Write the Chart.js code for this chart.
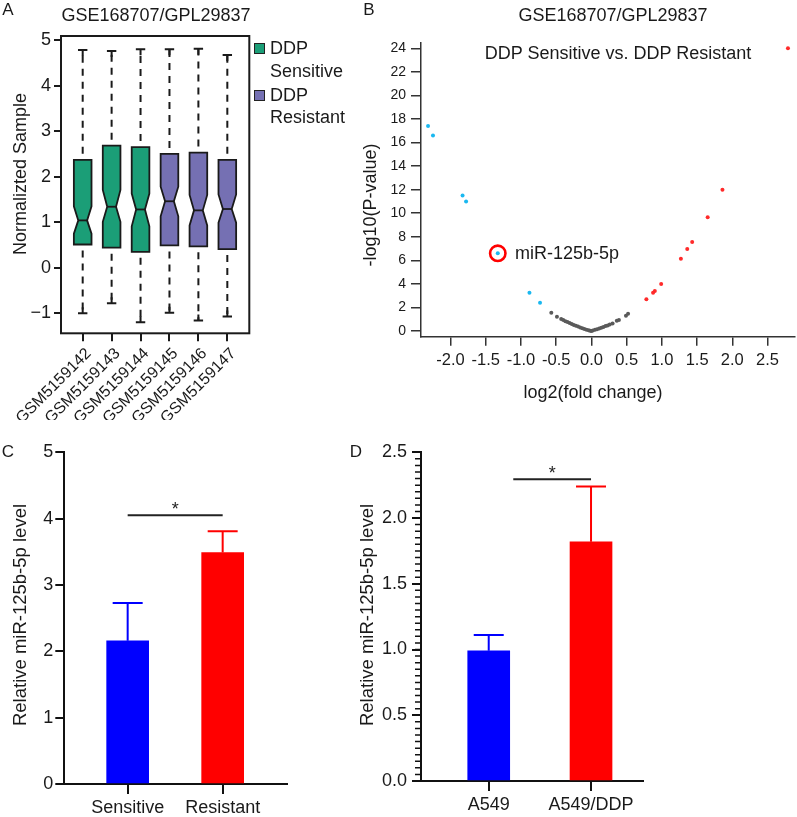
<!DOCTYPE html>
<html>
<head>
<meta charset="utf-8">
<script src="https://cdn.jsdelivr.net/npm/chart.js@4.4.0/dist/chart.umd.min.js"></script>
<style>
  body { margin:0; width:797px; height:817px; position:relative; background:#fff; overflow:hidden;
         font-family:"Liberation Sans", Arial, Helvetica, sans-serif; color:#1a1a1a; }
  canvas { position:absolute; }
  .t { position:absolute; white-space:nowrap; line-height:1; font-size:18px; transform:translate(-50%,-50%); }
  .v { transform:translate(-50%,-50%) rotate(-90deg); }
  .l { position:absolute; white-space:nowrap; line-height:1; font-size:18px; transform:translateY(-50%); }
  .sw { position:absolute; width:9px; height:9px; border:1.5px solid #222; }
</style>
</head>
<body>
<canvas id="boxA" width="380" height="420" style="left:0;top:0"></canvas>
<canvas id="volB" width="417" height="420" style="left:380px;top:0"></canvas>
<canvas id="barC" width="360" height="397" style="left:0;top:420px"></canvas>
<canvas id="barD" width="437" height="397" style="left:360px;top:420px"></canvas>

<!-- panel A texts -->
<div class="t" style="left:8px;top:9px;font-size:17px">A</div>
<div class="t" style="left:156px;top:15px">GSE168707/GPL29837</div>
<div class="t v" style="left:20px;top:174px">Normalizted Sample</div>
<div class="sw" style="left:254px;top:43px;background:#1B9E77"></div>
<div class="l" style="left:270px;top:48px">DDP</div>
<div class="l" style="left:270px;top:71px">Sensitive</div>
<div class="sw" style="left:254px;top:90px;background:#7570B3"></div>
<div class="l" style="left:270px;top:95px">DDP</div>
<div class="l" style="left:270px;top:117px">Resistant</div>

<!-- panel B texts -->
<div class="t" style="left:369px;top:9px;font-size:17px">B</div>
<div class="t" style="left:613px;top:15px">GSE168707/GPL29837</div>
<div class="t" style="left:618px;top:53px">DDP Sensitive vs. DDP Resistant</div>
<div class="t v" style="left:370px;top:205px">-log10(P-value)</div>
<div class="t" style="left:593px;top:392px">log2(fold change)</div>
<div class="l" style="left:515px;top:253px">miR-125b-5p</div>

<!-- panel C / D texts -->
<div class="t" style="left:8px;top:451px;font-size:17px">C</div>
<div class="t v" style="left:20px;top:615px;font-size:18.5px">Relative miR-125b-5p level</div>
<div class="t" style="left:356px;top:451px;font-size:17px">D</div>
<div class="t v" style="left:367px;top:615px;font-size:18.5px">Relative miR-125b-5p level</div>

<script>
// ---- A: normalized sample boxplots ----
const samples = ['GSM5159142','GSM5159143','GSM5159144','GSM5159145','GSM5159146','GSM5159147'];
const sampleGroup = ['Sensitive','Sensitive','Sensitive','Resistant','Resistant','Resistant'];
const whiskerHigh = [4.78, 4.76, 4.80, 4.80, 4.81, 4.67];
const q3          = [2.37, 2.68, 2.65, 2.50, 2.53, 2.37];
const notchHigh   = [1.35, 1.71, 1.63, 1.78, 1.60, 1.61];
const medians     = [1.04, 1.34, 1.28, 1.46, 1.26, 1.29];
const notchLow    = [0.75, 1.01, 0.91, 1.13, 0.93, 0.99];
const q1          = [0.51, 0.44, 0.35, 0.49, 0.47, 0.41];
const whiskerLow  = [-1.00, -0.78, -1.20, -0.99, -1.16, -1.07];
const boxYTicks = [-1, 0, 1, 2, 3, 4, 5];

// ---- B: volcano ----
const downFC = [-2.32, -2.25, -1.83, -1.78, -1.33, -0.88, -0.73];
const downP  = [17.4, 16.6, 11.5, 11.0, 6.6, 3.25, 2.4];
const highlightIdx = 4; // miR-125b-5p
const upFC = [2.79, 1.86, 1.65, 1.43, 1.36, 1.27, 0.99, 0.90, 0.875, 0.78];
const upP  = [24.0, 12.0, 9.65, 7.56, 6.96, 6.14, 4.0, 3.4, 3.25, 2.7];
const nsFC = [-0.57,-0.49,-0.43,-0.40,-0.37,-0.34,-0.31,-0.28,-0.25,-0.22,-0.19,-0.16,-0.13,-0.10,-0.07,-0.04,-0.02,
              0.00,0.02,0.05,0.08,0.11,0.14,0.17,0.20,0.23,0.26,0.30,0.36,0.39,0.49,0.52];
const nsP  = [1.55,1.21,1.02,0.93,0.84,0.76,0.68,0.60,0.52,0.45,0.38,0.31,0.24,0.18,0.12,0.07,0.03,
              0.00,0.04,0.10,0.16,0.22,0.29,0.35,0.42,0.48,0.55,0.63,0.87,0.93,1.30,1.47];
const fcTicks = [-2.0, -1.5, -1.0, -0.5, 0.0, 0.5, 1.0, 1.5, 2.0, 2.5];
const pTicks = [0, 2, 4, 6, 8, 10, 12, 14, 16, 18, 20, 22, 24];

// ---- C / D: qPCR bars ----
const groupsC = ['Sensitive', 'Resistant'];
const meanC = [2.16, 3.49];
const errC  = [0.57, 0.32];
const sigC  = {from: 0, to: 1, y: 4.05, label: '*'};
const groupsD = ['A549', 'A549/DDP'];
const meanD = [0.99, 1.82];
const errD  = [0.12, 0.42];
const sigD  = {from: 0.24, to: 1, y: 2.295, label: '*'};
const barColors = ['#0000FF', '#FF0000'];

const fontFam = '"Liberation Sans", Arial, Helvetica, sans-serif';
Chart.defaults.font.family = fontFam;
Chart.defaults.color = '#1a1a1a';
Chart.defaults.animation = false;
Chart.defaults.responsive = false;
Chart.defaults.plugins.legend.display = false;
Chart.defaults.plugins.tooltip.enabled = false;

// pin scale sizes so the plot areas land where the figure has them
const fixW = w => s => { s.width = w; s.paddingTop = 0; s.paddingBottom = 0; };
const fixH = h => s => { s.height = h; s.paddingLeft = 0; s.paddingRight = 0; };

const boxPlugin = {
  id: 'notchedBoxes',
  afterDatasetsDraw(chart) {
    const {ctx, scales: {x, y}} = chart;
    const step = x.getPixelForValue(1) - x.getPixelForValue(0);
    const hw = step * 0.305, cap = 4.7;
    ctx.save();
    samples.forEach((s, i) => {
      const xc = x.getPixelForValue(i);
      const py = v => y.getPixelForValue(v);
      ctx.strokeStyle = '#1a1a1a';
      ctx.lineWidth = 2;
      // dashed whiskers
      ctx.setLineDash([7, 6]);
      ctx.lineDashOffset = 7;
      ctx.beginPath();
      ctx.moveTo(xc, py(q3[i])); ctx.lineTo(xc, py(whiskerHigh[i]));
      ctx.moveTo(xc, py(q1[i])); ctx.lineTo(xc, py(whiskerLow[i]));
      ctx.stroke();
      ctx.setLineDash([]);
      ctx.beginPath();
      ctx.moveTo(xc - cap, py(whiskerHigh[i])); ctx.lineTo(xc + cap, py(whiskerHigh[i]));
      ctx.moveTo(xc, py(whiskerHigh[i])); ctx.lineTo(xc, py(whiskerHigh[i]) + 6);
      ctx.moveTo(xc - cap, py(whiskerLow[i])); ctx.lineTo(xc + cap, py(whiskerLow[i]));
      ctx.moveTo(xc, py(whiskerLow[i])); ctx.lineTo(xc, py(whiskerLow[i]) - 6);
      ctx.stroke();
      // notched box
      ctx.beginPath();
      ctx.moveTo(xc - hw, py(q3[i]));
      ctx.lineTo(xc + hw, py(q3[i]));
      ctx.lineTo(xc + hw, py(notchHigh[i]));
      ctx.lineTo(xc + hw * 0.5, py(medians[i]));
      ctx.lineTo(xc + hw, py(notchLow[i]));
      ctx.lineTo(xc + hw, py(q1[i]));
      ctx.lineTo(xc - hw, py(q1[i]));
      ctx.lineTo(xc - hw, py(notchLow[i]));
      ctx.lineTo(xc - hw * 0.5, py(medians[i]));
      ctx.lineTo(xc - hw, py(notchHigh[i]));
      ctx.closePath();
      ctx.fillStyle = sampleGroup[i] === 'Sensitive' ? '#1B9E77' : '#7570B3';
      ctx.fill();
      ctx.lineWidth = 1.8;
      ctx.stroke();
      ctx.beginPath();
      ctx.moveTo(xc - hw * 0.5, py(medians[i])); ctx.lineTo(xc + hw * 0.5, py(medians[i]));
      ctx.stroke();
    });
    ctx.restore();
  },
  afterDraw(chart) {
    const a = chart.chartArea, ctx = chart.ctx;
    ctx.save();
    ctx.strokeStyle = '#1a1a1a';
    ctx.lineWidth = 2;
    ctx.strokeRect(a.left, a.top, a.right - a.left, a.bottom - a.top);
    ctx.restore();
  }
};

new Chart(document.getElementById('boxA'), {
  type: 'scatter',
  data: { datasets: [{ data: samples.map((s, i) => ({x: i, y: medians[i]})), pointRadius: 0 }] },
  options: {
    layout: { autoPadding: false, padding: {left: 0, top: 36, right: 130.7, bottom: 0} },
    scales: {
      x: {
        type: 'linear', min: -0.75, max: 5.76,
        afterBuildTicks: a => { a.ticks = samples.map((s, i) => ({value: i})); },
        afterFit: fixH(86.7),
        border: {display: false},
        grid: {drawOnChartArea: false, tickLength: 8, color: '#1a1a1a', lineWidth: 2},
        ticks: {autoSkip: false, minRotation: 45, maxRotation: 45, padding: 3, labelOffset: 6,
                font: {size: 16}, callback: v => samples[v]}
      },
      y: {
        min: -1.44, max: 5.09,
        afterBuildTicks: a => { a.ticks = boxYTicks.map(v => ({value: v})); },
        afterFit: fixW(61),
        border: {display: false},
        grid: {drawOnChartArea: false, tickLength: 7, color: '#1a1a1a', lineWidth: 2},
        ticks: {autoSkip: false, padding: 3, font: {size: 18},
                callback: v => v < 0 ? '\u2212' + Math.abs(v) : String(v)}
      }
    }
  },
  plugins: [boxPlugin]
});

// volcano
const pts = (xs, ys) => xs.map((v, i) => ({x: v, y: ys[i]}));
new Chart(document.getElementById('volB'), {
  type: 'scatter',
  data: {
    datasets: [
      { data: pts(nsFC, nsP), backgroundColor: '#5a5a5a', borderColor: '#5a5a5a', pointRadius: 2, borderWidth: 0 },
      { data: pts(downFC, downP), backgroundColor: '#1AB8F0', borderColor: '#1AB8F0', pointRadius: 2, borderWidth: 0 },
      { data: pts(upFC, upP), backgroundColor: '#FF2A2A', borderColor: '#FF2A2A', pointRadius: 2, borderWidth: 0 },
      { data: [{x: downFC[highlightIdx], y: downP[highlightIdx]}], backgroundColor: 'rgba(0,0,0,0)',
        borderColor: '#FF0000', pointRadius: 7.7, borderWidth: 2.6 }
    ]
  },
  options: {
    layout: { autoPadding: false, padding: {left: 0, top: 43, right: 2, bottom: 0} },
    scales: {
      x: {
        type: 'linear', min: -2.42, max: 2.89,
        afterBuildTicks: a => { a.ticks = fcTicks.map(v => ({value: v})); },
        afterFit: fixH(83.3),
        border: {display: true, color: '#333', width: 1.5},
        grid: {drawOnChartArea: false, tickLength: 9, color: '#333', lineWidth: 1.5},
        ticks: {autoSkip: false, maxRotation: 0, padding: 5, font: {size: 16.5}, callback: v => v.toFixed(1)}
      },
      y: {
        min: -0.48, max: 24.45,
        afterBuildTicks: a => { a.ticks = pTicks.map(v => ({value: v})); },
        afterFit: fixW(41),
        border: {display: true, color: '#333', width: 1.5},
        grid: {drawOnChartArea: false, tickLength: 10, color: '#333', lineWidth: 1.5},
        ticks: {autoSkip: false, padding: 5, font: {size: 14}}
      }
    }
  }
});

// error bars + significance bracket (+ optional minor ticks) for the bar panels
function barExtras(means, errs, sig, minorStep) {
  return {
    id: 'barExtras',
    afterDatasetsDraw(chart) {
      const {ctx, scales: {x, y}} = chart;
      ctx.save();
      ctx.lineWidth = 2;
      means.forEach((m, i) => {
        const xc = x.getPixelForValue(i);
        const top = y.getPixelForValue(m + errs[i]);
        ctx.strokeStyle = barColors[i];
        ctx.beginPath();
        ctx.moveTo(xc, y.getPixelForValue(m)); ctx.lineTo(xc, top);
        ctx.moveTo(xc - 15, top); ctx.lineTo(xc + 15, top);
        ctx.stroke();
      });
      const sy = y.getPixelForValue(sig.y);
      const x1 = x.getPixelForValue(sig.from), x2 = x.getPixelForValue(sig.to);
      ctx.strokeStyle = '#222';
      ctx.beginPath(); ctx.moveTo(x1, sy); ctx.lineTo(x2, sy); ctx.stroke();
      ctx.fillStyle = '#222';
      ctx.font = '18px ' + fontFam;
      ctx.textAlign = 'center';
      ctx.fillText(sig.label, (x1 + x2) / 2, sy);
      if (minorStep > 0) {
        // short minor ticks on the value axis
        const left = chart.chartArea.left;
        const n = Math.round(y.max / minorStep);
        ctx.strokeStyle = '#111';
        ctx.lineWidth = 1.5;
        ctx.beginPath();
        for (let k = 0; k <= n; k++) {
          const py = y.getPixelForValue(k * minorStep);
          ctx.moveTo(left - 6, py); ctx.lineTo(left, py);
        }
        ctx.stroke();
      }
      ctx.restore();
    }
  };
}

function barChart(id, groups, means, errs, sig, opt) {
  return new Chart(document.getElementById(id), {
    type: 'bar',
    data: { datasets: [{ data: means.map((m, i) => ({x: i, y: m})), backgroundColor: barColors,
                         borderWidth: 0, barThickness: 42 }] },
    options: {
      layout: { autoPadding: false, padding: {left: 0, top: 32.3, right: opt.padRight, bottom: 0} },
      scales: {
        x: {
          type: 'linear', min: opt.xMin, max: opt.xMax, offset: false,
          afterBuildTicks: a => { a.ticks = groups.map((g, i) => ({value: i})); },
          afterFit: fixH(opt.xH),
          border: {display: true, color: '#111', width: 2},
          grid: {drawOnChartArea: false, offset: false, tickLength: 10, color: '#111', lineWidth: 2},
          ticks: {autoSkip: false, maxRotation: 0, padding: 3, font: {size: 18}, callback: v => groups[v]}
        },
        y: {
          min: 0, max: opt.yMax,
          ticks: {stepSize: opt.step, padding: opt.tickPad, font: {size: 18}, callback: opt.fmt},
          afterFit: fixW(opt.yW),
          border: {display: true, color: '#111', width: 2},
          grid: {drawOnChartArea: false, tickLength: 9, color: '#111', lineWidth: 2}
        }
      }
    },
    plugins: [barExtras(means, errs, sig, opt.minor)]
  });
}

barChart('barC', groupsC, meanC, errC, sigC,
  {xMin: -0.667, xMax: 1.674, padRight: 73.3, xH: 33, yMax: 5, step: 1, yW: 64.3, tickPad: 2,
   fmt: v => String(v), minor: 0});
barChart('barD', groupsD, meanD, errD, sigD,
  {xMin: -0.662, xMax: 1.511, padRight: 153.7, xH: 36, yMax: 2.5, step: 0.5, yW: 61, tickPad: 5,
   fmt: v => v.toFixed(1), minor: 0.05});
</script>
</body>
</html>
